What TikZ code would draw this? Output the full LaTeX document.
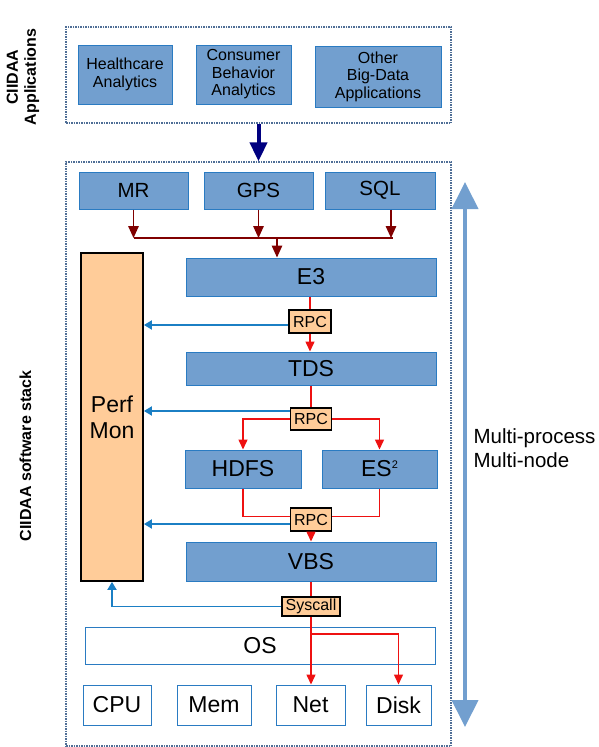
\documentclass[tikz,border=0pt]{standalone}
\usepackage{fontspec}
\setmainfont{Liberation Sans}
\usetikzlibrary{arrows.meta}
\definecolor{boxblue}{HTML}{729FCF}
\definecolor{edgeblue}{HTML}{2A7BC2}
\definecolor{monblue}{HTML}{1B7FC4}
\definecolor{peach}{HTML}{FFCC99}
\definecolor{darkred}{HTML}{800000}
\definecolor{flowred}{HTML}{EE1111}
\definecolor{framegray}{HTML}{4F6E96}
\definecolor{navyblue}{HTML}{000080}
\begin{document}
\begin{tikzpicture}[x=1pt, y=-1pt,
  layerbox/.style={draw=edgeblue, fill=boxblue, line width=1pt, inner sep=0pt, font=\fontsize{23}{26}\selectfont},
  appbox/.style={layerbox, align=center, font=\fontsize{16}{17.5}\selectfont},
  servicebox/.style={layerbox, font=\fontsize{20.5}{24}\selectfont},
  hwbox/.style={layerbox, fill=white},
  callbox/.style={draw=black, fill=peach, line width=1.5pt, inner sep=0pt, font=\fontsize{16}{18}\selectfont},
  group/.style={draw=framegray, dash pattern=on 1.5pt off 1pt, line width=1.3pt, inner sep=0pt},
  sidelabel/.style={rotate=90, align=center, font=\bfseries\fontsize{16}{18}\selectfont},
  redflow/.style={draw=flowred, line width=1.5pt},
  redarrow/.style={redflow, -{Triangle[length=10pt,width=9pt]}},
  feedline/.style={draw=darkred, line width=1.5pt},
  feed/.style={feedline, -{Triangle[length=12pt,width=10.5pt]}},
  monline/.style={draw=monblue, line width=1.8pt, -{Triangle[length=8pt,width=9pt]}},
  push/.style={draw=navyblue, line width=4pt, -{Triangle[length=19pt,width=17pt]}},
  span/.style={draw=boxblue, line width=4pt, {Triangle[length=27pt,width=26pt]}-{Triangle[length=27pt,width=26pt]}}]
\useasboundingbox (0,0) rectangle (598,747);
\node[group, minimum width=385pt, minimum height=96pt] (apps) at (258.5,75) {};
\node[group, minimum width=385pt, minimum height=584pt] (stack) at (258.5,454) {};
\node[sidelabel] (appslabel) at (23,77) {CIIDAA\\Applications};
\node[sidelabel] (stacklabel) at (25.5,456) {CIIDAA software stack};
\node[appbox, minimum width=94pt, minimum height=59pt] (health) at (125,74.5) {Healthcare\\Analytics};
\node[appbox, minimum width=95pt, minimum height=59pt] (consumer) at (243.5,74.5) {Consumer\\Behavior\\Analytics};
\node[appbox, minimum width=126pt, minimum height=61pt] (other) at (378,76.5) {Other\\Big-Data\\Applications};
\node[servicebox, minimum width=109pt, minimum height=37pt] (MR) at (133.5,190.5) {MR};
\node[servicebox, minimum width=109pt, minimum height=37pt] (GPS) at (258.5,190.5) {GPS};
\node[servicebox, minimum width=110pt, minimum height=37pt] (SQL) at (380,190.5) {SQL};
\node[layerbox, minimum width=250pt, minimum height=38pt] (E3) at (311,277) {E3};
\node[callbox, minimum width=42pt, minimum height=23pt] (RPC1) at (310,321.5) {RPC};
\node[layerbox, minimum width=250pt, minimum height=33pt] (TDS) at (311,368.5) {TDS};
\node[callbox, minimum width=41pt, minimum height=22pt] (RPC2) at (311,419) {RPC};
\node[layerbox, minimum width=116pt, minimum height=38pt] (HDFS) at (243,469) {HDFS};
\node[layerbox, minimum width=115pt, minimum height=38pt] (ES2) at (379.5,469) {ES\raisebox{8.5pt}{\fontsize{11}{12}\selectfont 2}};
\node[callbox, minimum width=41pt, minimum height=23pt] (RPC3) at (311,519.5) {RPC};
\node[layerbox, minimum width=250pt, minimum height=39pt] (VBS) at (311,561.5) {VBS};
\node[callbox, minimum width=58pt, minimum height=19pt] (Syscall) at (311,606.5) {Syscall};
\node[hwbox, minimum width=350pt, minimum height=37pt] (OS) at (260,645.5) {OS};
\node[hwbox, minimum width=68pt, minimum height=40pt] (CPU) at (117,705) {CPU};
\node[hwbox, minimum width=74pt, minimum height=40pt] (Mem) at (214,705) {Mem};
\node[hwbox, minimum width=69pt, minimum height=40pt] (Net) at (310.5,705) {Net};
\node[hwbox, minimum width=65pt, minimum height=40pt] (Disk) at (398.5,705) {Disk};
\node[callbox, line width=1.8pt, align=center, minimum width=62pt, minimum height=328pt, font=\fontsize{23}{26}\selectfont] (PerfMon) at (112,417) {Perf\\Mon};
\node[anchor=west, align=left, font=\fontsize{20.5}{24}\selectfont] (scale) at (470,448) {Multi-process\\Multi-node};
\coordinate (busL) at (133.5,238);
\coordinate (busE) at (277,238);
\coordinate (busR) at (391,238);
\coordinate (osbranch) at (311,634);
\coordinate (spantop) at (465,182);
\coordinate (spanbot) at (465,727);
\draw[push] (apps.south) -- (stack.north);
\draw[feed] (MR.south) -- (MR.south |- busL);
\draw[feed] (GPS.south) -- (GPS.south |- busL);
\draw[feed] (SQL.south -| busR) -- (busR);
\draw[feedline] (busL) -- ([xshift=2pt]busR);
\draw[feed] (busE) -- (busE |- E3.north);
\draw[redflow] (RPC1.north |- E3.south) -- (RPC1.north);
\draw[redarrow] (RPC1.south) -- (RPC1.south |- TDS.north);
\draw[redflow] (TDS.south) -- (RPC2.north);
\draw[redarrow] (RPC2.west) -| (HDFS.north);
\draw[redarrow] (RPC2.east) -| (ES2.north);
\draw[redflow] (HDFS.south) |- ([yshift=3pt]RPC3.west);
\draw[redflow] (ES2.south) |- ([yshift=3pt]RPC3.east);
\draw[redarrow] (RPC3.south) -- (RPC3.south |- VBS.north);
\draw[redflow] (VBS.south) -- (Syscall.north);
\draw[redarrow] (Syscall.south) -- (Syscall.south |- Net.north);
\draw[redarrow] (osbranch) -| (Disk.north);
\draw[monline] ([yshift=-3.5pt]RPC1.west) -- ([yshift=-3.5pt]RPC1.west -| PerfMon.east);
\draw[monline] ([yshift=8pt]RPC2.west) -- ([yshift=8pt]RPC2.west -| PerfMon.east);
\draw[monline] ([yshift=-4.5pt]RPC3.west) -- ([yshift=-4.5pt]RPC3.west -| PerfMon.east);
\draw[monline] (Syscall.west) -| (PerfMon.south);
\draw[span] (spantop) -- (spanbot);
\end{tikzpicture}
\end{document}
